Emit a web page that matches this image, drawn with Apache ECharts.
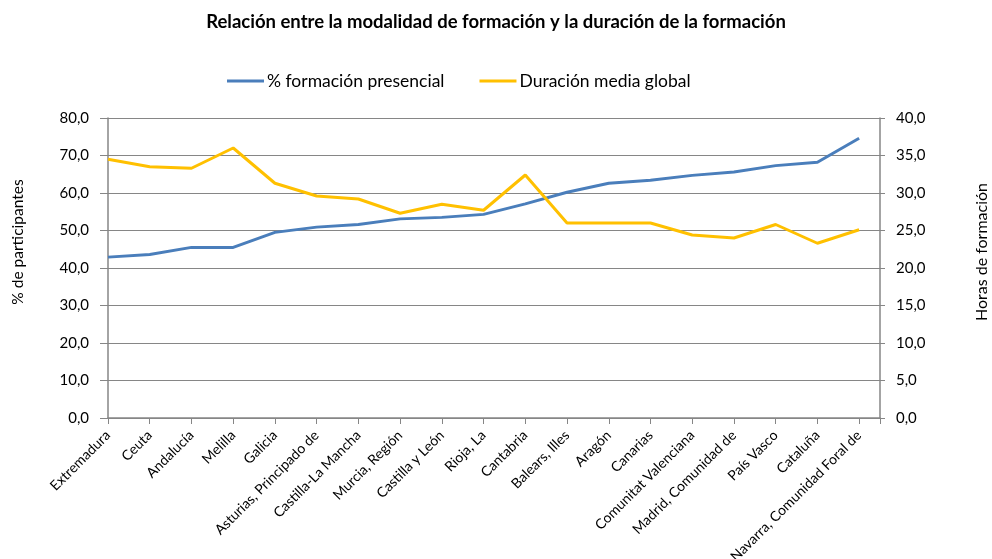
<!DOCTYPE html>
<html>
<head>
<meta charset="utf-8">
<script src="https://cdn.jsdelivr.net/npm/echarts@6/dist/echarts.min.js"></script>
<style>
  html, body { margin: 0; padding: 0; background: #fff; }
  #chart { width: 992px; height: 559px; }
</style>
</head>
<body>
<div id="chart"></div>
<script>
// Comunidades autónomas, ordered by share of in-person training
const regions = [
  'Extremadura', 'Ceuta', 'Andalucía', 'Melilla', 'Galicia',
  'Asturias, Principado de', 'Castilla-La Mancha', 'Murcia, Región',
  'Castilla y León', 'Rioja, La', 'Cantabria', 'Balears, Illes', 'Aragón',
  'Canarias', 'Comunitat Valenciana', 'Madrid, Comunidad de', 'País Vasco',
  'Cataluña', 'Navarra, Comunidad Foral de'
];

// % formación presencial (left axis)
const presencial = [
  42.9, 43.6, 45.5, 45.5, 49.5, 50.9, 51.6, 53.1, 53.5, 54.3,
  57.1, 60.2, 62.6, 63.4, 64.7, 65.6, 67.3, 68.2, 74.6
];

// Duración media global, hours (right axis)
const duracion = [
  34.5, 33.5, 33.3, 36.0, 31.3, 29.6, 29.2, 27.3, 28.5, 27.7,
  32.4, 26.0, 26.0, 26.0, 24.4, 24.0, 25.8, 23.3, 25.1
];

const FONT = 'Lato, "Open Sans", sans-serif';
const AXIS_GREY = '#868686';
const fmt = v => v.toFixed(1).replace('.', ',');

const chart = echarts.init(document.getElementById('chart'));
chart.setOption({
  backgroundColor: '#ffffff',
  animation: false,
  textStyle: { fontFamily: FONT, color: '#000' },
  title: {
    text: 'Relación entre la modalidad de formación y la duración de la formación',
    left: 'center',
    top: 8,
    textStyle: { fontFamily: FONT, fontSize: 18.5, fontWeight: 'bold', color: '#000' }
  },
  legend: {
    top: 67,
    left: 222,
    itemWidth: 37,
    itemHeight: 3,
    itemGap: 35,
    icon: 'rect',
    textStyle: { fontFamily: FONT, fontSize: 17.5, color: '#000', padding: [0, 0, 0, -2] },
    data: ['% formación presencial', 'Duración media global']
  },
  grid: {
    left: 108, right: 112, top: 118, bottom: 141,
    containLabel: false,
    outerBoundsMode: 'none'
  },
  xAxis: {
    type: 'value',
    min: 0,
    max: regions.length - 0.5,
    interval: 1,
    splitLine: { show: false },
    axisLine: { show: true, lineStyle: { color: AXIS_GREY, width: 1.5 } },
    axisTick: { show: true, length: 6, lineStyle: { color: AXIS_GREY, width: 1 } },
    axisLabel: {
      rotate: 45,
      margin: 15,
      fontSize: 14,
      fontFamily: FONT,
      color: '#000',
      showMinLabel: true,
      showMaxLabel: true,
      formatter: v => (Number.isInteger(v) && regions[v] !== undefined) ? regions[v] : ''
    }
  },
  yAxis: [
    {
      type: 'value',
      min: 0, max: 80, interval: 10,
      name: '% de participantes',
      nameLocation: 'middle',
      nameRotate: 90,
      nameGap: 82,
      nameTextStyle: { fontFamily: FONT, fontSize: 15.5, color: '#000', padding: [0, 0, 0, 52] },
      axisLine: { show: true, lineStyle: { color: AXIS_GREY, width: 1.5 } },
      axisTick: { show: true, length: 8, lineStyle: { color: AXIS_GREY } },
      splitLine: { show: true, lineStyle: { color: AXIS_GREY, width: 1.2 } },
      axisLabel: { fontSize: 15, fontFamily: FONT, color: '#000', margin: 19, formatter: fmt }
    },
    {
      type: 'value',
      min: 0, max: 40, interval: 5,
      name: 'Horas de formación',
      nameLocation: 'middle',
      nameRotate: 90,
      nameGap: 94,
      nameTextStyle: { fontFamily: FONT, fontSize: 16, color: '#000', padding: [0, 0, 0, 32] },
      axisLine: { show: true, lineStyle: { color: AXIS_GREY, width: 1.5 } },
      axisTick: { show: true, length: 5, lineStyle: { color: AXIS_GREY } },
      splitLine: { show: false },
      axisLabel: { fontSize: 15, fontFamily: FONT, color: '#000', margin: 16, formatter: fmt }
    }
  ],
  series: [
    {
      name: '% formación presencial',
      type: 'line',
      yAxisIndex: 0,
      symbol: 'none',
      color: '#4A7EBB',
      lineStyle: { width: 3, color: '#4A7EBB' },
      data: presencial.map((v, i) => [i, v])
    },
    {
      name: 'Duración media global',
      type: 'line',
      yAxisIndex: 1,
      symbol: 'none',
      color: '#FFC000',
      lineStyle: { width: 3, color: '#FFC000' },
      data: duracion.map((v, i) => [i, v])
    }
  ]
});
</script>
</body>
</html>
